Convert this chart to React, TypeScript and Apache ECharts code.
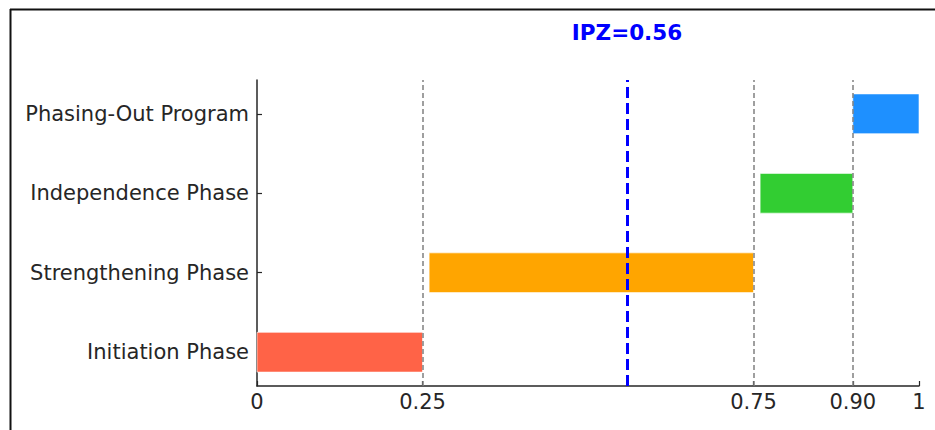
import React, { useEffect, useRef } from "react";
import * as echarts from "echarts";

const categories = ["Initiation Phase", "Strengthening Phase", "Independence Phase", "Phasing-Out Program"];
const phaseStarts = [0, 0.26, 0.76, 0.9];
const phaseEnds = [0.25, 0.75, 0.9, 1.0];
const phaseColors = ["#FF6347", "#FFA500", "#32CD32", "#1E90FF"];
const ipzValue = 0.56;
const boundaryLines = [0.25, 0.75, 0.9];
const xTickValues = [0, 0.25, 0.75, 0.9, 1];
const xTickLabels = ["0", "0.25", "0.75", "0.90", "1"];
const yTickValues = [0, 1, 2, 3];

const FONT = "DejaVu Sans";
const TEXT = "#262626";

export default function App() {
  const ref = useRef<HTMLDivElement>(null);
  useEffect(() => {
    const chart = echarts.init(ref.current!, null, { renderer: "svg" });
    const barData = categories.map((_, i) => [i, phaseStarts[i], phaseEnds[i]]);
    chart.setOption({
      animation: false,
      backgroundColor: "#ffffff",
      grid: { left: 257, right: 16, top: 80, bottom: 44, containLabel: false },
      xAxis: {
        type: "value",
        min: 0,
        max: 1,
        splitLine: { show: false },
        axisLine: { show: true, onZero: false, lineStyle: { color: TEXT, width: 1.5 } },
        axisTick: { show: true, inside: true, length: 5, customValues: xTickValues, lineStyle: { color: TEXT, width: 1.2 } },
        axisLabel: {
          customValues: xTickValues,
          fontFamily: FONT,
          fontSize: 21,
          color: TEXT,
          margin: 5,
          formatter: (v: number) => {
            const i = xTickValues.findIndex((t) => Math.abs(t - v) < 1e-6);
            return i >= 0 ? xTickLabels[i] : "";
          },
        },
      },
      yAxis: {
        type: "value",
        min: -0.425,
        max: 3.425,
        splitLine: { show: false },
        axisLine: { show: true, onZero: false, lineStyle: { color: TEXT, width: 1.5 } },
        axisTick: { show: true, inside: true, length: 5, customValues: yTickValues, lineStyle: { color: TEXT, width: 1.2 } },
        axisLabel: {
          customValues: yTickValues,
          fontFamily: FONT,
          fontSize: 21,
          color: TEXT,
          margin: 8,
          formatter: (v: number) => categories[Math.round(v)] ?? "",
        },
      },
      series: [
        {
          type: "custom",
          z: 2,
          data: barData,
          encode: { x: [1, 2], y: 0 },
          renderItem: (params: any, api: any) => {
            const idx = api.value(0);
            const p1 = api.coord([api.value(1), idx + 0.25]);
            const p2 = api.coord([api.value(2), idx - 0.25]);
            return {
              type: "rect",
              shape: { x: p1[0], y: p1[1], width: p2[0] - p1[0], height: p2[1] - p1[1] },
              style: { fill: phaseColors[idx], stroke: "rgba(255,255,255,0.6)", lineWidth: 1 },
            };
          },
        },
        {
          type: "line",
          data: [],
          z: 5,
          markLine: {
            symbol: "none",
            silent: true,
            label: { show: false },
            data: boundaryLines.map((v) => ({
              xAxis: v,
              lineStyle: { color: "#808080", type: [5, 3], width: 1.5 },
            })),
          },
        },
        {
          type: "line",
          data: [],
          z: 6,
          markLine: {
            symbol: "none",
            silent: true,
            label: { show: false },
            data: [{ xAxis: ipzValue, lineStyle: { color: "#0000FF", type: [11, 5], width: 3 } }],
          },
        },
      ],
      graphic: [
        {
          type: "text",
          x: 627,
          y: 32,
          style: {
            text: "IPZ=" + ipzValue.toFixed(2),
            fontFamily: FONT,
            fontWeight: "bold",
            fontSize: 21.5,
            fill: "#0000FF",
            textAlign: "center",
            textVerticalAlign: "middle",
          },
        },
        { type: "line", shape: { x1: 10.5, y1: 9, x2: 10.5, y2: 430 }, style: { stroke: "#111", lineWidth: 2 } },
        { type: "line", shape: { x1: 10, y1: 9.5, x2: 935, y2: 9.5 }, style: { stroke: "#111", lineWidth: 2 } },
      ],
    });
    return () => chart.dispose();
  }, []);
  return <div ref={ref} style={{ position: "absolute", left: 0, top: 0, width: 935, height: 430 }} />;
}
